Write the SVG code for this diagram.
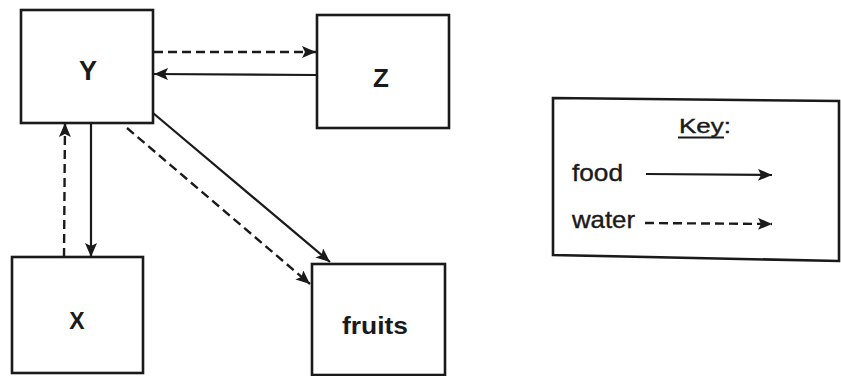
<svg xmlns="http://www.w3.org/2000/svg" width="841" height="376" viewBox="0 0 841 376">
  <defs>
    <style>
      .box { fill: #ffffff; stroke: #1a1a1a; stroke-width: 2.6; }
      .lbl { font-family: "Liberation Sans", Arial, sans-serif; font-weight: bold; fill: #1a1a1a; text-anchor: middle; }
      .key { font-family: "Liberation Sans", Arial, sans-serif; fill: #1a1a1a; stroke: #1a1a1a; stroke-width: 0.4; }
      .food { stroke: #1a1a1a; stroke-width: 2.2; fill: none; }
      .water { stroke: #1a1a1a; stroke-width: 2.4; fill: none; stroke-dasharray: 9 5; }
    </style>
    <marker id="ah" markerUnits="userSpaceOnUse" markerWidth="16" markerHeight="14" refX="14" refY="6" orient="auto">
      <path d="M0,0 L14,6 L0,12 L3,6 z" fill="#1a1a1a"/>
    </marker>
  </defs>
  <rect width="841" height="376" fill="#ffffff"/>

  <g id="node-Y">
    <rect class="box" x="21" y="10" width="132" height="113"/>
    <text class="lbl" x="88" y="80" font-size="27">Y</text>
  </g>
  <g id="node-Z">
    <rect class="box" x="317" y="15" width="132" height="113"/>
    <text class="lbl" x="381" y="87" font-size="26">Z</text>
  </g>
  <g id="node-X">
    <rect class="box" x="12" y="257" width="131" height="116"/>
    <text class="lbl" x="77" y="329" font-size="23">X</text>
  </g>
  <g id="node-fruits">
    <rect class="box" x="312" y="264" width="133" height="111"/>
    <text class="lbl" x="375" y="334" font-size="24" textLength="66" lengthAdjust="spacingAndGlyphs">fruits</text>
  </g>

  <g id="connectors">
    <line class="water" x1="154" y1="52" x2="316" y2="52" marker-end="url(#ah)"/>
    <line class="food" x1="316" y1="75" x2="154" y2="74" marker-end="url(#ah)"/>
    <line class="food" x1="91" y1="123" x2="91" y2="257" marker-end="url(#ah)"/>
    <line class="water" x1="64" y1="257" x2="65" y2="123" marker-end="url(#ah)"/>
    <line class="food" x1="153" y1="113" x2="330" y2="262" marker-end="url(#ah)"/>
    <line class="water" x1="127" y1="128" x2="310" y2="284" marker-end="url(#ah)"/>
  </g>

  <g id="key">
    <path class="box" d="M553,98 L839,101 L839,261 L553,255 z"/>
    <text class="key" x="705" y="133" font-size="21" text-anchor="middle" textLength="52" lengthAdjust="spacingAndGlyphs">Key:</text>
    <line x1="678" y1="137.5" x2="724" y2="137.5" stroke="#1a1a1a" stroke-width="2"/>
    <text class="key" x="572" y="181" font-size="24" textLength="51" lengthAdjust="spacingAndGlyphs">food</text>
    <line class="food" x1="646" y1="174" x2="772" y2="175" marker-end="url(#ah)"/>
    <text class="key" x="572" y="228" font-size="24" textLength="63" lengthAdjust="spacingAndGlyphs">water</text>
    <line class="water" x1="645" y1="223" x2="772" y2="224" marker-end="url(#ah)"/>
  </g>
</svg>
